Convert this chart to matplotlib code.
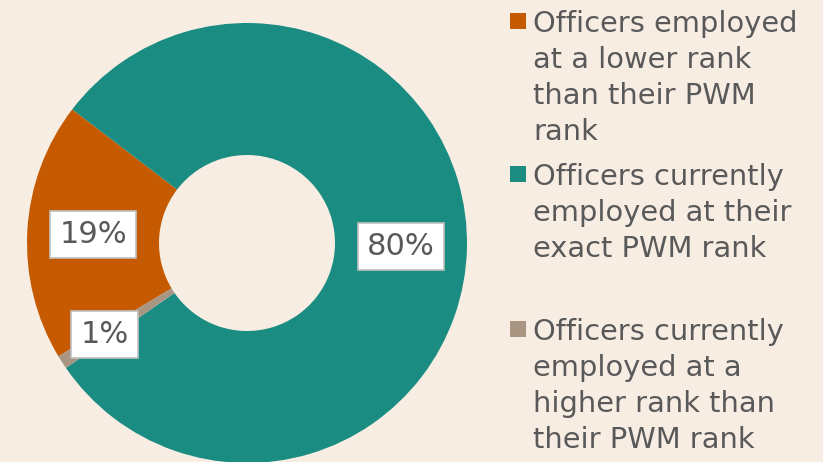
import matplotlib.pyplot as plt
import numpy as np

categories = [
    "Officers employed\nat a lower rank\nthan their PWM\nrank",
    "Officers currently\nemployed at their\nexact PWM rank",
    "Officers currently\nemployed at a\nhigher rank than\ntheir PWM rank",
]
shares = [19, 80, 1]
pct_labels = ["19%", "80%", "1%"]
colors = ["#C55A00", "#1A8C82", "#A89582"]

bg = "#F7EDE3"
txt = "#595959"
W, H = 823, 462

fig = plt.figure(figsize=(W / 100, H / 100), dpi=100, facecolor=bg)
# square axes holding the doughnut (centre 247,243 px, radius 220 px)
cx, cy, r = 247, 243, 220
ax = fig.add_axes([(cx - r) / W, (H - cy - r) / H, 2 * r / W, 2 * r / H])
ax.set_facecolor(bg)

wedges, _ = ax.pie(shares, colors=colors, startangle=211, counterclock=False,
                   radius=1.0, wedgeprops=dict(width=0.6, linewidth=0))
ax.set_xlim(-1, 1)
ax.set_ylim(-1, 1)
ax.axis("off")

# data labels sit mid-ring; the thin slice label is pushed a little outward
label_r = [0.70, 0.70, 0.77]
for w, lab, rr in zip(wedges, pct_labels, label_r):
    ang = np.deg2rad((w.theta1 + w.theta2) / 2)
    ax.text(rr * np.cos(ang), rr * np.sin(ang), lab, ha="center", va="center",
            fontsize=22, color=txt, family="DejaVu Sans",
            bbox=dict(boxstyle="square,pad=0.3", fc="white", ec="#BFBFBF", lw=1.2))

# legend drawn by hand: square marker + wrapped lines
first_base = [32, 185, 340]
line_gap = 36
for lab, col, yb in zip(categories, colors, first_base):
    fig.patches.append(plt.Rectangle((510 / W, 1 - 29 / H - (yb - 32) / H), 16 / W, 16 / H,
                                     transform=fig.transFigure, fc=col, ec="none"))
    for i, line in enumerate(lab.split("\n")):
        fig.text(533 / W, 1 - (yb + i * line_gap) / H, line, ha="left", va="baseline",
                 fontsize=20.8, color=txt, family="DejaVu Sans")

fig.savefig("out.png", dpi=100, facecolor=bg)
